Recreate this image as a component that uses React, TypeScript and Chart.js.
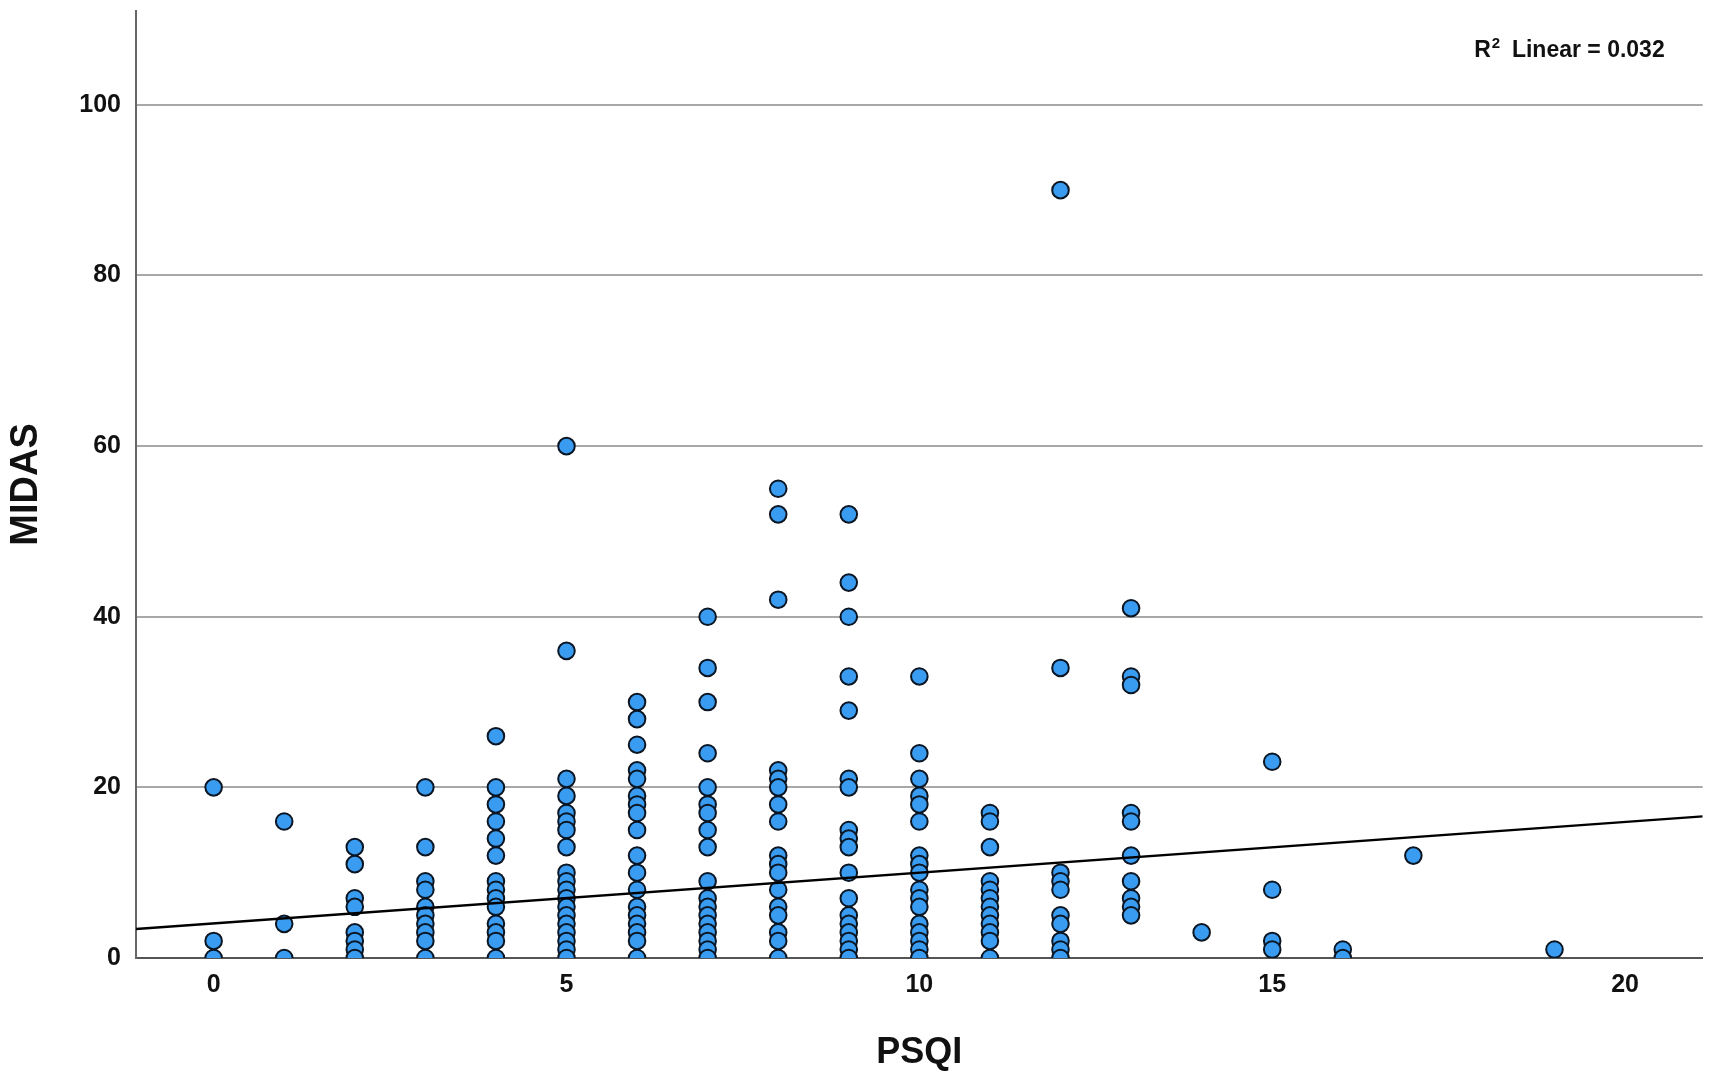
import React, { useEffect, useRef } from "react";
import { Chart, registerables } from "chart.js";

Chart.register(...registerables);

// PSQI score columns and the MIDAS values stacked at each of them
const psqiLevels = [0, 1, 2, 3, 4, 5, 6, 7, 8, 9, 10, 11, 12, 13, 14, 15, 16, 17, 19];
const midasByLevel = [
  [20, 2, 0],
  [16, 4, 0],
  [13, 11, 7, 6, 3, 2, 1, 0],
  [20, 13, 9, 8, 6, 5, 4, 3, 2, 0],
  [26, 20, 18, 16, 14, 12, 9, 8, 7, 6, 4, 3, 2, 0],
  [60, 36, 21, 19, 17, 16, 15, 13, 10, 9, 8, 7, 6, 5, 4, 3, 2, 1, 0],
  [30, 28, 25, 22, 21, 19, 18, 17, 15, 12, 10, 8, 6, 5, 4, 3, 2, 0],
  [40, 34, 30, 24, 20, 18, 17, 15, 13, 9, 7, 6, 5, 4, 3, 2, 1, 0],
  [55, 52, 42, 22, 21, 20, 18, 16, 12, 11, 10, 8, 6, 5, 3, 2, 0],
  [52, 44, 40, 33, 29, 21, 20, 15, 14, 13, 10, 7, 5, 4, 3, 2, 1, 0],
  [33, 24, 21, 19, 18, 16, 12, 11, 10, 8, 7, 6, 4, 3, 2, 1, 0],
  [17, 16, 13, 9, 8, 7, 6, 5, 4, 3, 2, 0],
  [90, 34, 10, 9, 8, 5, 4, 2, 1, 0],
  [41, 33, 32, 17, 16, 12, 9, 7, 6, 5],
  [3],
  [23, 8, 2, 1],
  [1, 0],
  [12],
  [1],
];

// fit line, at the two ends of the x axis
const fitX = [-1.1, 21.1];
const fitY = [3.4, 16.6];
const r2Text = "0.032";

const xTicks = [0, 5, 10, 15, 20];
const yTicks = [0, 20, 40, 60, 80, 100];

const FONT = '"Liberation Sans", Arial, Helvetica, sans-serif';

const r2Label = {
  id: "r2Label",
  afterDraw(chart: Chart) {
    const ctx = chart.ctx;
    const right = chart.chartArea.right - 38;
    const base = 57;
    ctx.save();
    ctx.fillStyle = "#111";
    ctx.textBaseline = "alphabetic";
    ctx.textAlign = "left";
    const big = `bold 23px ${FONT}`;
    const small = `bold 15px ${FONT}`;
    const rest = "  Linear = " + r2Text;
    ctx.font = big;
    const wR = ctx.measureText("R").width;
    const wRest = ctx.measureText(rest).width;
    ctx.font = small;
    const w2 = ctx.measureText("2").width;
    let x = right - (wR + w2 + wRest);
    ctx.font = big;
    ctx.fillText("R", x, base);
    x += wR;
    ctx.font = small;
    ctx.fillText("2", x + 1, base - 9);
    x += w2;
    ctx.font = big;
    ctx.fillText(rest, x, base);
    ctx.restore();
  },
};

const App: React.FC = () => {
  const canvasRef = useRef<HTMLCanvasElement>(null);

  useEffect(() => {
    document.body.style.margin = "0";
    if (!canvasRef.current) return;

    const points: { x: number; y: number }[] = [];
    psqiLevels.forEach((p, i) => {
      midasByLevel[i].forEach((m) => points.push({ x: p, y: m }));
    });

    const chart = new Chart(canvasRef.current, {
      type: "scatter",
      data: {
        datasets: [
          {
            type: "line",
            data: fitX.map((x, i) => ({ x, y: fitY[i] })),
            borderColor: "#000",
            borderWidth: 2.5,
            pointRadius: 0,
            showLine: true,
            order: 0,
          },
          {
            type: "scatter",
            data: points,
            backgroundColor: "#3a9cf0",
            borderColor: "#0b1624",
            borderWidth: 2,
            pointRadius: 8.3,
            clip: 0,
            order: 1,
          },
        ],
      },
      options: {
        animation: false,
        responsive: true,
        maintainAspectRatio: false,
        layout: { padding: { top: 11, right: 10, left: 0, bottom: 0 } },
        plugins: {
          legend: { display: false },
          tooltip: { enabled: false },
        },
        scales: {
          x: {
            type: "linear",
            min: -1.1,
            max: 21.1,
            afterFit: (s: any) => {
              s.height = 117;
              s.paddingLeft = 0;
              s.paddingRight = 0;
            },
            afterBuildTicks: (s: any) => {
              s.ticks = xTicks.map((v) => ({ value: v }));
            },
            grid: { display: false, drawTicks: false },
            border: { display: true, color: "#555", width: 2 },
            ticks: {
              padding: 12,
              color: "#111",
              font: { family: FONT, size: 25, weight: "bold" },
            },
            title: {
              display: true,
              text: "PSQI",
              color: "#111",
              padding: { top: 0, bottom: 0 },
              font: { family: FONT, size: 36, weight: "bold" },
            },
          },
          y: {
            type: "linear",
            min: 0,
            max: 111,
            afterFit: (s: any) => {
              s.width = 136;
              s.paddingTop = 0;
              s.paddingBottom = 0;
            },
            afterBuildTicks: (s: any) => {
              s.ticks = yTicks.map((v) => ({ value: v }));
            },
            grid: { color: "#a8a8a8", lineWidth: 2, drawTicks: false },
            border: { display: true, color: "#666", width: 2 },
            ticks: {
              padding: 15,
              color: "#111",
              font: { family: FONT, size: 25, weight: "bold" },
            },
            title: {
              display: true,
              text: "MIDAS",
              color: "#111",
              padding: { top: 4, bottom: 0 },
              font: { family: FONT, size: 38, weight: "bold" },
            },
          },
        },
      },
      plugins: [r2Label],
    });

    return () => {
      chart.destroy();
    };
  }, []);

  return (
    <div style={{ width: 1713, height: 1075, background: "#fff" }}>
      <canvas ref={canvasRef} />
    </div>
  );
};

export default App;
